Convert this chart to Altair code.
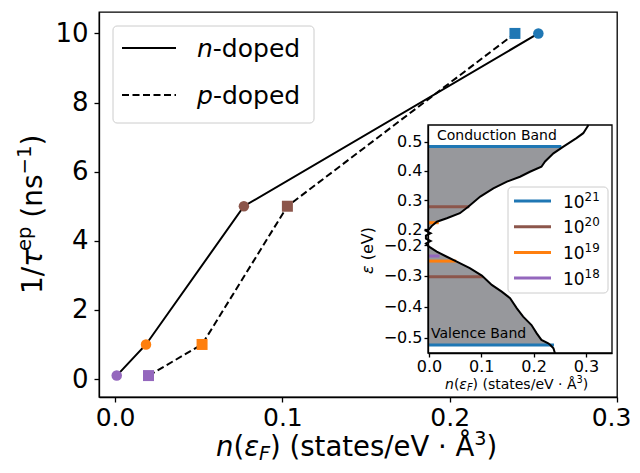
import altair as alt
import pandas as pd

FONT = "DejaVu Sans"

# ---------------- data ----------------
levels = ["10²¹", "10²⁰", "10¹⁹", "10¹⁸"]
level_exps = ["21", "20", "19", "18"]
level_colors = ["#1f77b4", "#8c564b", "#ff7f0e", "#9467bd"]
scatter_rate = [10.0, 5.0, 1.0, 0.1]
n_dos_fermi = [0.253, 0.077, 0.0185, 0.001]
p_dos_fermi = [0.239, 0.103, 0.052, 0.020]
n_fermi_energy = [0.483, 0.277, 0.2226, 0.201]
p_fermi_energy = [-0.5236, -0.3025, -0.252, -0.2356]

cb_energy = [0.557, 0.529, 0.512, 0.483, 0.460, 0.432, 0.414, 0.397, 0.380, 0.363,
             0.340, 0.312, 0.277, 0.255, 0.238, 0.226, 0.211, 0.200]
cb_dos = [0.305, 0.295, 0.282, 0.257, 0.238, 0.222, 0.215, 0.193, 0.174, 0.149,
          0.123, 0.098, 0.075, 0.059, 0.034, 0.015, 0.005, 0.000]
gap_energy = [0.16, 0.10, 0.04, -0.04, -0.10, -0.16]
gap_dos = [-0.006, 0.003, -0.006, -0.006, 0.003, -0.006]
vb_energy = [-0.2055, -0.2217, -0.238, -0.254, -0.275, -0.299, -0.313, -0.329, -0.351,
             -0.372, -0.405, -0.432, -0.459, -0.486, -0.507, -0.518, -0.5236, -0.534, -0.551]
vb_dos = [0.000, 0.0147, 0.034, 0.053, 0.078, 0.101, 0.110, 0.120, 0.139,
          0.155, 0.168, 0.180, 0.196, 0.206, 0.215, 0.228, 0.232, 0.238, 0.241]

x_ticks = [0.0, 0.1, 0.2, 0.3]
y_ticks = [0, 2, 4, 6, 8, 10]
inset_x_ticks = [0.0, 0.1, 0.2, 0.3]
inset_y_ticks = [-0.5, -0.4, -0.3, -0.2, 0.2, 0.3, 0.4, 0.5]

# ---------------- tables ----------------
df_n = pd.DataFrame({"dos": n_dos_fermi, "rate": scatter_rate, "level": levels})
df_p = pd.DataFrame({"dos": p_dos_fermi, "rate": scatter_rate, "level": levels})
df_fermi = pd.DataFrame({
    "dos": n_dos_fermi + p_dos_fermi,
    "E": n_fermi_energy + p_fermi_energy,
    "level": levels + levels,
})
curve_E = cb_energy + gap_energy + vb_energy
curve_D = cb_dos + gap_dos + vb_dos
curve_band = ["cb"] * len(cb_energy) + ["gap"] * len(gap_energy) + ["vb"] * len(vb_energy)
df_curve = pd.DataFrame({"E": curve_E, "dos": curve_D, "band": curve_band,
                         "idx": list(range(len(curve_E)))})
one = pd.DataFrame({"a": [0]})

W, H = 518, 385

# ---------------- main plot ----------------
cs = alt.Scale(domain=levels, range=level_colors)
xs = alt.Scale(domain=[-0.0096, 0.3], nice=False, zero=False)
ys = alt.Scale(domain=[-0.52, 10.62], nice=False, zero=False)
axis_common = dict(grid=False, domainColor="black", domainWidth=1.3, tickColor="black",
                   tickWidth=1.3, labelColor="black", labelFont=FONT, zindex=1)
xaxis = alt.Axis(values=x_ticks, format=".1f", labelFontSize=25, tickSize=5,
                 labelPadding=3, title=None, labelFlush=False,
                 labelOffset={"condition": {"test": "datum.value > 0.25", "value": -6}, "value": 0},
                 **axis_common)
yaxis = alt.Axis(values=y_ticks, format="d", labelFontSize=26, tickSize=5,
                 labelPadding=6, title=None, **axis_common)

X = alt.X("dos:Q", scale=xs, axis=xaxis)
Y = alt.Y("rate:Q", scale=ys, axis=yaxis)
line_n = alt.Chart(df_n).mark_line(color="black", strokeWidth=2).encode(x=X, y=Y)
line_p = alt.Chart(df_p).mark_line(color="black", strokeWidth=2, strokeDash=[7, 3.5]).encode(x=X, y=Y)
pts_n = alt.Chart(df_n).mark_point(shape="circle", filled=True, size=110, opacity=1).encode(
    x=X, y=Y, color=alt.Color("level:N", scale=cs, legend=None))
pts_p = alt.Chart(df_p).mark_point(shape="square", filled=True, size=121, opacity=1).encode(
    x=X, y=Y, color=alt.Color("level:N", scale=cs, legend=None))
main = alt.layer(line_n, line_p, pts_n, pts_p)

# ---------------- inset ----------------
IL, IR, IT, IB = 329, 513, 113, 341
ixs = alt.Scale(domain=[-0.002, 0.35], range=[IL, IR], nice=False, zero=False)
iys = alt.Scale(domain=[-0.5495, -0.2, 0.2, 0.557], range=[IB, 233, 217.3, IT], nice=False, zero=False)
ixaxis = alt.Axis(orient="bottom", offset=-(H - IB), values=inset_x_ticks, format=".1f",
                  labelFontSize=16, tickSize=4, labelPadding=1, title=None, labelFlush=False,
                  **axis_common)
iyaxis = alt.Axis(orient="left", offset=-IL, values=inset_y_ticks, format=".1f",
                  labelFontSize=16, tickSize=4, labelPadding=2, title=None, labelOverlap=False,
                  labelFlush=False, **axis_common)
IX = alt.X("dos:Q", scale=ixs, axis=ixaxis)
IY = alt.Y("E:Q", scale=iys, axis=iyaxis)

inset_bg = alt.Chart(one).mark_rect(fill="white").encode(
    x=alt.value(IL), x2=alt.value(IR), y=alt.value(IT), y2=alt.value(IB))
area = alt.Chart(df_curve).transform_filter(
    f"datum.band != 'gap' && datum.E <= {n_fermi_energy[0]} && datum.E >= {p_fermi_energy[0]}"
).mark_area(orient="horizontal", color="#97989c", opacity=1).encode(
    y=IY, x=IX, x2=alt.datum(0), detail="band:N")
rules = alt.Chart(df_fermi).mark_rule(strokeWidth=3).encode(
    y=IY, x=IX, x2=alt.datum(0), color=alt.Color("level:N", scale=cs, legend=None))
curve = alt.Chart(df_curve).mark_line(color="black", strokeWidth=2).encode(
    y=IY, x=IX, order="idx:Q")
inset = alt.layer(area, rules, curve)
inset_frame = alt.Chart(one).mark_rect(fill="white", fillOpacity=0, stroke="black", strokeWidth=1.3).encode(
    x=alt.value(IL), x2=alt.value(IR), y=alt.value(IT), y2=alt.value(IB))


# ---------------- text helpers ----------------
def txt(text, x, y, size, italic=False, angle=0, align="left", baseline="alphabetic"):
    return alt.Chart(one).mark_text(
        align=align, baseline=baseline, font=FONT, fontSize=size, angle=angle,
        fontStyle="italic" if italic else "normal", color="black"
    ).encode(x=alt.value(x), y=alt.value(y), text=alt.value(text))


def rich(segs, x0, y0, size, angle=0):
    out = []
    pos = 0.0
    for text, italic, script, wem in segs:
        fs = size * 0.7 if script else size
        shift = {None: 0.0, "sub": 0.15 * size, "sup": -0.4 * size}[script]
        if angle == 0:
            x, y = x0 + pos, y0 + shift
        else:
            x, y = x0 + shift, y0 - pos
        if text:
            out.append(txt(text, x, y, fs, italic=italic, angle=angle))
        pos += wem * fs
    return out


def nef_title(x0, y0, size):
    return rich([("n", True, None, 0.634), ("(", False, None, 0.39), ("ε", True, None, 0.54),
                 ("F", True, "sub", 0.575), (")", False, None, 0.39), ("", False, None, 0.318),
                 ("(states/eV · Å", False, None, 6.716), ("3", False, "sup", 0.636),
                 (")", False, None, 0.39)], x0, y0, size)


deco = []
# main axis titles
deco += nef_title(117, 444, 27.5)
deco += rich([("1/", False, None, 0.973), ("τ", True, None, 0.56), ("ep", False, "sup", 1.25),
              ("", False, None, 0.318), ("(ns", False, None, 1.545), ("−1", False, "sup", 1.474),
              (")", False, None, 0.39)],
             -57, 282, 28, angle=270)
# inset axis titles
deco += nef_title(346, 377, 14)
deco += rich([("ε", True, None, 0.54), ("", False, None, 0.318), ("(eV)", False, None, 0)],
             274, 262, 16, angle=270)
# band labels
deco.append(txt("Conduction Band", 338, 128, 14))
deco.append(txt("Valence Band", 332, 326, 14))

# main legend
legend_parts = [alt.Chart(one).mark_rect(fill="white", fillOpacity=0.8, stroke="#cccccc",
                                          strokeWidth=1, cornerRadius=4).encode(
    x=alt.value(14), x2=alt.value(215), y=alt.value(14), y2=alt.value(111))]
legend_parts.append(alt.Chart(one).mark_rule(color="black", strokeWidth=2).encode(
    x=alt.value(23), x2=alt.value(77), y=alt.value(36)))
legend_parts.append(alt.Chart(one).mark_rule(color="black", strokeWidth=2, strokeDash=[7, 3.5]).encode(
    x=alt.value(23), x2=alt.value(77), y=alt.value(83)))
legend_parts += rich([("n", True, None, 0.634), ("-doped", False, None, 0)], 98, 45, 25)
legend_parts += rich([("p", True, None, 0.635), ("-doped", False, None, 0)], 98, 92, 25)

# inset legend
ileg = [alt.Chart(one).mark_rect(fill="white", fillOpacity=0.8, stroke="#cccccc",
                                 strokeWidth=1, cornerRadius=4).encode(
    x=alt.value(409), x2=alt.value(509), y=alt.value(175), y2=alt.value(281))]
for i, (ex, col) in enumerate(zip(level_exps, level_colors)):
    ry = 189 + i * 25.7
    ileg.append(alt.Chart(one).mark_rule(color=col, strokeWidth=3).encode(
        x=alt.value(415), x2=alt.value(452), y=alt.value(ry)))
    ileg += rich([("10", False, None, 1.272), (ex, False, "sup", 0)], 464, ry + 6.5, 17)

chart = alt.layer(
    main, inset_bg, inset, inset_frame, *ileg, *legend_parts, *deco
).resolve_scale(
    x="independent", y="independent", color="independent"
).properties(
    width=W, height=H,
    padding={"left": 91, "top": 4, "right": 15, "bottom": 68},
    autosize=alt.AutoSizeParams(type="none"),
).configure_view(stroke="black", strokeWidth=1.3)

chart.save("out.html", embed_options={"renderer": "svg", "actions": False})
